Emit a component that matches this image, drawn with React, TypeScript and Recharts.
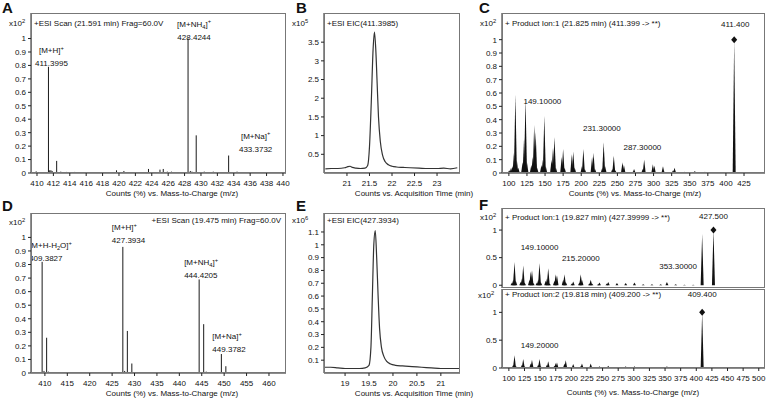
import React from 'react';
import { ComposedChart, Line, Scatter, XAxis, YAxis } from 'recharts';

const FONT = '"Liberation Sans", Arial, Helvetica, sans-serif';
const INK = '#111';

// ---- A: ESI scan 21.591 min ----
const aMz = [409.9, 411.3995, 411.55, 411.7, 411.85, 412.4, 412.9, 413.6, 414.6, 419.7, 420.6, 423.6, 425.0, 425.4, 425.9, 426.4, 428.4244, 428.7, 428.9, 429.42, 430.4, 431.5, 433.3732, 434.4, 436.2, 438.0];
const aAbund = [0.012, 0.79, 0.02, 0.02, 0.015, 0.09, 0.01, 0.008, 0.008, 0.02, 0.015, 0.03, 0.025, 0.03, 0.01, 0.01, 1.0, 0.015, 0.01, 0.28, 0.01, 0.01, 0.13, 0.01, 0.005, 0.005];
const aXTicks = [410, 412, 414, 416, 418, 420, 422, 424, 426, 428, 430, 432, 434, 436, 438, 440];
const aYTicks = [0, 0.1, 0.2, 0.3, 0.4, 0.5, 0.6, 0.7, 0.8, 0.9, 1];
const aNoteMz = [411.3995, 428.4244, 433.3732];
const aNoteAbund = [0.79, 1.0, 0.13];
const aNoteText = [['[M+H]^+', '411.3995'], ['[M+NH_4]^+', '428.4244'], ['[M+Na]^+', '433.3732']];

// ---- B: EIC 411.3985 ----
const bTime = [20.52, 20.65, 20.8, 20.95, 21.02, 21.07, 21.12, 21.2, 21.3, 21.4, 21.46, 21.5, 21.54, 21.58, 21.61, 21.64, 21.67, 21.7, 21.74, 21.79, 21.85, 21.92, 22.0, 22.1, 22.25, 22.4, 22.6, 22.8, 23.0, 23.15, 23.3, 23.45];
const bAbund = [0.11, 0.12, 0.12, 0.14, 0.17, 0.18, 0.15, 0.13, 0.12, 0.13, 0.2, 0.7, 1.9, 3.3, 3.77, 3.3, 2.4, 1.5, 0.85, 0.48, 0.3, 0.22, 0.18, 0.16, 0.15, 0.14, 0.13, 0.12, 0.12, 0.13, 0.11, 0.14];
const bXTicks = [21, 21.5, 22, 22.5, 23];
const bYTicks = [0.5, 1, 1.5, 2, 2.5, 3, 3.5];

// ---- C: product ion 411.399 ----
const cMz = [100.5, 103, 105, 107, 109, 111, 113, 119, 121, 123, 125, 131, 133, 135, 137, 139, 145, 147, 149, 151, 159, 161, 163, 165, 173, 175, 177, 187, 189, 191, 201, 203, 205, 215, 217, 219, 229, 231, 233, 243, 245, 247, 257, 259, 271, 273, 285, 287, 299, 301, 313, 315, 327, 329, 343, 357, 371, 411.4];
const cAbund = [0.02, 0.04, 0.05, 0.15, 0.59, 0.1, 0.04, 0.08, 0.26, 0.56, 0.08, 0.06, 0.12, 0.36, 0.31, 0.04, 0.06, 0.1, 0.43, 0.05, 0.1, 0.19, 0.27, 0.04, 0.12, 0.18, 0.04, 0.14, 0.16, 0.04, 0.05, 0.18, 0.03, 0.12, 0.15, 0.03, 0.04, 0.23, 0.05, 0.03, 0.13, 0.02, 0.08, 0.06, 0.01, 0.03, 0.03, 0.1, 0.065, 0.055, 0.05, 0.01, 0.02, 0.04, 0.01, 0.015, 0.01, 1.0];
const cXTicks = [100, 125, 150, 175, 200, 225, 250, 275, 300, 325, 350, 375, 400, 425];
const cYTicks = [0, 0.1, 0.2, 0.3, 0.4, 0.5, 0.6, 0.7, 0.8, 0.9, 1];
const cNoteMz = [149.1, 231.3, 287.3, 411.4];
const cNoteAbund = [0.43, 0.23, 0.1, 1.0];
const cNoteText = [['149.10000'], ['231.30000'], ['287.30000'], ['411.400']];
const cPrecursorMz = [411.4];
const cPrecursorAbund = [1.0];

// ---- D: ESI scan 19.475 min ----
const dMz = [409.3827, 409.8, 410.39, 410.8, 414.5, 416.2, 422.6, 427.3934, 427.8, 428.4, 429.4, 431.2, 432.6, 434.9, 444.4205, 445.43, 446.0, 449.3782, 450.38, 455.0];
const dAbund = [0.82, 0.015, 0.26, 0.01, 0.006, 0.006, 0.006, 0.93, 0.015, 0.31, 0.07, 0.006, 0.006, 0.006, 0.69, 0.36, 0.01, 0.14, 0.05, 0.006];
const dXTicks = [410, 415, 420, 425, 430, 435, 440, 445, 450, 455, 460];
const dYTicks = [0, 0.1, 0.2, 0.3, 0.4, 0.5, 0.6, 0.7, 0.8, 0.9, 1];
const dNoteMz = [409.3827, 427.3934, 444.4205, 449.3782];
const dNoteAbund = [0.82, 0.93, 0.69, 0.14];
const dNoteText = [['[M+H-H_2O]^+', '409.3827'], ['[M+H]^+', '427.3934'], ['[M+NH_4]^+', '444.4205'], ['[M+Na]^+', '449.3782']];

// ---- E: EIC 427.3934 ----
const eTime = [18.56, 18.7, 18.85, 19.0, 19.15, 19.3, 19.42, 19.5, 19.54, 19.57, 19.6, 19.63, 19.66, 19.69, 19.72, 19.76, 19.81, 19.87, 19.95, 20.05, 20.2, 20.4, 20.6, 20.8, 21.0, 21.2, 21.4];
const eAbund = [0.045, 0.045, 0.04, 0.035, 0.035, 0.035, 0.04, 0.06, 0.2, 0.6, 1.0, 1.11, 0.9, 0.6, 0.35, 0.2, 0.13, 0.09, 0.07, 0.06, 0.055, 0.05, 0.045, 0.04, 0.035, 0.035, 0.035];
const eXTicks = [19, 19.5, 20, 20.5, 21];
const eYTicks = [0.1, 0.2, 0.3, 0.4, 0.5, 0.6, 0.7, 0.8, 0.9, 1, 1.1];

// ---- F: product ions 427.4 and 409.2 ----
const f1Mz = [105, 107, 109, 111, 119, 121, 123, 125, 133, 135, 137, 139, 145, 147, 149, 151, 159, 161, 163, 165, 173, 175, 177, 187, 189, 191, 201, 203, 213, 215, 217, 229, 231, 233, 243, 245, 257, 259, 273, 287, 301, 315, 329, 343, 353, 367, 381, 395, 409.4, 427.5];
const f1Abund = [0.05, 0.1, 0.42, 0.08, 0.06, 0.12, 0.36, 0.05, 0.1, 0.25, 0.27, 0.04, 0.05, 0.1, 0.4, 0.06, 0.08, 0.12, 0.31, 0.03, 0.08, 0.2, 0.18, 0.1, 0.2, 0.06, 0.03, 0.07, 0.05, 0.2, 0.1, 0.03, 0.1, 0.03, 0.02, 0.05, 0.03, 0.06, 0.04, 0.04, 0.05, 0.02, 0.02, 0.02, 0.06, 0.02, 0.01, 0.01, 0.93, 1.0];
const f1NoteMz = [149.1, 215.2, 353.3, 427.5];
const f1NoteAbund = [0.4, 0.2, 0.06, 1.0];
const f1NoteText = [['149.10000'], ['215.20000'], ['353.30000'], ['427.500']];
const f1PrecursorMz = [427.5];
const f1PrecursorAbund = [1.0];

const f2Mz = [107, 109, 111, 121, 123, 125, 135, 137, 147, 149, 151, 161, 163, 173, 175, 177, 189, 191, 203, 215, 217, 231, 245, 259, 273, 287, 301, 315, 329, 343, 353, 409.4];
const f2Abund = [0.06, 0.23, 0.04, 0.06, 0.16, 0.03, 0.08, 0.15, 0.06, 0.16, 0.03, 0.06, 0.12, 0.04, 0.09, 0.1, 0.08, 0.14, 0.07, 0.03, 0.08, 0.08, 0.03, 0.04, 0.02, 0.03, 0.03, 0.02, 0.02, 0.02, 0.03, 1.0];
const f2NoteMz = [149.2, 409.4];
const f2NoteAbund = [0.16, 1.0];
const f2NoteText = [['149.20000'], ['409.400']];
const f2PrecursorMz = [409.4];
const f2PrecursorAbund = [1.0];

const fXTicks = [100, 125, 150, 175, 200, 225, 250, 275, 300, 325, 350, 375, 400, 425, 450, 475, 500];
const fYTicks = [0, 0.5, 1];

const MZ_TITLE = 'Counts (%) vs. Mass-to-Charge (m/z)';
const TIME_TITLE = 'Counts vs. Acquisition Time (min)';

// ---------------------------------------------------------------

type Box = { l: number; t: number; w: number; h: number };
type Pt = { x: number; y: number };
type NotePos = { dx: number; dy: number; anchor: 'start' | 'middle' | 'end' };

const Y_AXIS_W = 30;
const X_AXIS_H = 16;
const RIGHT_PAD = 10;
const LINE_GAP = 13;

const pts = (xs: number[], ys: number[]): Pt[] => xs.map((x, i) => ({ x, y: ys[i] }));

function Rich({ text, x, y, anchor = 'start', size = 8, weight = 'normal' }: any) {
  const parts: string[] = text.split(/(\^.|_.)/).filter((s: string) => s.length > 0);
  let cur = 0;
  return (
    <text x={x} y={y} textAnchor={anchor} fontFamily={FONT} fontSize={size} fontWeight={weight} fill={INK}>
      {parts.map((s, k) => {
        let target = 0;
        let body = s;
        let fs = size;
        if (s.length === 2 && s[0] === '^') { target = -size * 0.4; body = s[1]; fs = size * 0.72; }
        else if (s.length === 2 && s[0] === '_') { target = size * 0.25; body = s[1]; fs = size * 0.72; }
        const dy = target - cur;
        cur = target;
        return <tspan key={k} dy={dy} fontSize={fs}>{body}</tspan>;
      })}
    </text>
  );
}

interface SpecProps {
  box: Box;
  xDomain: [number, number];
  xTicks: number[];
  yDomain: [number, number];
  yTicks: number[];
  peaks?: Pt[];
  tents?: boolean;
  trace?: Pt[];
  notes?: { x: number; y: number; lines: string[]; pos: NotePos }[];
  precursor?: Pt[];
  showX?: boolean;
}

const Spectrum: React.FC<SpecProps> = ({ box, xDomain, xTicks, yDomain, yTicks, peaks, tents, trace, notes, precursor, showX = true }) => {
  const axisH = showX ? X_AXIS_H : 0;
  const bottomPad = showX ? 0 : 6;
  // pixel row of zero intensity inside the plot area
  const base = (box.h * yDomain[1]) / (yDomain[1] - yDomain[0]);
  const tick = { fontSize: 8, fill: INK, fontFamily: FONT };

  const stick = (p: any) => <line x1={p.cx} x2={p.cx} y1={p.cy} y2={base} stroke="#1a1a1a" strokeWidth={1} />;
  const tent = (p: any) => (
    <polygon points={`${p.cx - 1.5},${base} ${p.cx},${p.cy} ${p.cx + 1.5},${base}`} fill="#111" />
  );
  const diamond = (p: any) => (
    <polygon points={`${p.cx},${p.cy - 3.5} ${p.cx + 3},${p.cy} ${p.cx},${p.cy + 3.5} ${p.cx - 3},${p.cy}`} fill="#111" />
  );
  const note = (p: any) => {
    const n = p.payload;
    const last = n.lines.length - 1;
    return (
      <g>
        {n.lines.map((s: string, k: number) => (
          <Rich key={k} text={s} x={p.cx + n.pos.dx} y={p.cy + n.pos.dy - (last - k) * LINE_GAP} anchor={n.pos.anchor} />
        ))}
      </g>
    );
  };

  return (
    <div style={{ position: 'absolute', left: box.l - Y_AXIS_W, top: box.t }}>
      <ComposedChart
        width={box.w + Y_AXIS_W + RIGHT_PAD}
        height={box.h + axisH + bottomPad}
        margin={{ top: 0, right: RIGHT_PAD, bottom: bottomPad, left: 0 }}
      >
        <XAxis
          type="number"
          dataKey="x"
          domain={xDomain}
          ticks={xTicks}
          interval={0}
          allowDataOverflow
          hide={!showX}
          height={axisH}
          tickSize={3}
          tickMargin={4}
          tick={tick}
          axisLine={{ stroke: '#8c8c8c', strokeWidth: 2 }}
          tickLine={{ stroke: '#222' }}
        />
        <YAxis
          type="number"
          dataKey="y"
          domain={yDomain}
          ticks={yTicks}
          interval={0}
          allowDataOverflow
          width={Y_AXIS_W}
          tickSize={3}
          tickMargin={2}
          tick={tick}
          axisLine={{ stroke: '#222' }}
          tickLine={{ stroke: '#222' }}
        />
        {trace && (
          <Line data={trace} dataKey="y" type="monotone" dot={false} stroke="#333" strokeWidth={1.2} isAnimationActive={false} />
        )}
        {peaks && <Scatter data={peaks} dataKey="y" shape={tents ? tent : stick} isAnimationActive={false} />}
        {precursor && <Scatter data={precursor} dataKey="y" shape={diamond} isAnimationActive={false} />}
        {notes && <Scatter data={notes} dataKey="y" shape={note} isAnimationActive={false} />}
      </ComposedChart>
    </div>
  );
};

const Frame: React.FC<{ box: Box }> = ({ box }) => (
  <div
    style={{
      position: 'absolute',
      left: box.l,
      top: box.t,
      width: box.w,
      height: box.h,
      border: '1px solid #777',
      boxSizing: 'border-box',
      pointerEvents: 'none',
    }}
  />
);

const notesOf = (xs: number[], ys: number[], texts: string[][], pos: NotePos[]) =>
  xs.map((x, i) => ({ x, y: ys[i], lines: texts[i], pos: pos[i] }));

// layout
const boxA: Box = { l: 31, t: 13, w: 255, h: 160 };
const boxB: Box = { l: 324, t: 13, w: 136, h: 160 };
const boxC: Box = { l: 502, t: 13, w: 263, h: 160 };
const boxD: Box = { l: 31, t: 213, w: 255, h: 160 };
const boxE: Box = { l: 324, t: 213, w: 136, h: 160 };
const boxF1: Box = { l: 502, t: 208, w: 263, h: 80 };
const boxF2: Box = { l: 502, t: 289, w: 263, h: 79 };

const aPos: NotePos[] = [
  { dx: 3, dy: -1, anchor: 'middle' },
  { dx: 6, dy: 1, anchor: 'middle' },
  { dx: 27, dy: -4, anchor: 'middle' },
];
const cPos: NotePos[] = [
  { dx: -2, dy: -12, anchor: 'middle' },
  { dx: -2, dy: -11, anchor: 'middle' },
  { dx: -2, dy: -10, anchor: 'middle' },
  { dx: 1, dy: -13, anchor: 'middle' },
];
const dPos: NotePos[] = [
  { dx: -13, dy: -1, anchor: 'start' },
  { dx: -11, dy: -4, anchor: 'start' },
  { dx: -15, dy: -1, anchor: 'start' },
  { dx: -9, dy: -2, anchor: 'start' },
];
const f1Pos: NotePos[] = [
  { dx: 0, dy: -13, anchor: 'middle' },
  { dx: 0, dy: -13, anchor: 'middle' },
  { dx: 11, dy: -13, anchor: 'middle' },
  { dx: 0, dy: -11, anchor: 'middle' },
];
const f2Pos: NotePos[] = [
  { dx: 0, dy: -11, anchor: 'middle' },
  { dx: 0, dy: -15, anchor: 'middle' },
];

const headers: { text: string; x: number; y: number; anchor?: string; size?: number; weight?: string }[] = [
  { text: 'A', x: 2, y: 13, size: 15, weight: 'bold' },
  { text: 'B', x: 296, y: 13, size: 15, weight: 'bold' },
  { text: 'C', x: 479, y: 13, size: 15, weight: 'bold' },
  { text: 'D', x: 2, y: 211, size: 15, weight: 'bold' },
  { text: 'E', x: 296, y: 211, size: 15, weight: 'bold' },
  { text: 'F', x: 479, y: 210, size: 15, weight: 'bold' },
  { text: 'x10^2', x: 9, y: 26 },
  { text: 'x10^5', x: 292, y: 26 },
  { text: 'x10^2', x: 480, y: 26 },
  { text: 'x10^2', x: 9, y: 225 },
  { text: 'x10^6', x: 292, y: 223 },
  { text: 'x10^2', x: 480, y: 220 },
  { text: 'x10^2', x: 478, y: 298 },
  { text: '+ESI Scan (21.591 min) Frag=60.0V', x: 34, y: 26 },
  { text: '+ESI EIC(411.3985)', x: 327, y: 26 },
  { text: '+ Product Ion:1 (21.825 min) (411.399 -> **)', x: 505, y: 26 },
  { text: '+ESI Scan (19.475 min) Frag=60.0V', x: 281, y: 223, anchor: 'end' },
  { text: '+ESI EIC(427.3934)', x: 327, y: 223 },
  { text: '+ Product Ion:1 (19.827 min) (427.39999 -> **)', x: 505, y: 220 },
  { text: '+ Product Ion:2 (19.818 min) (409.200 -> **)', x: 505, y: 297 },
  { text: MZ_TITLE, x: 172, y: 196, anchor: 'middle' },
  { text: TIME_TITLE, x: 414, y: 196, anchor: 'middle' },
  { text: MZ_TITLE, x: 635, y: 196, anchor: 'middle' },
  { text: MZ_TITLE, x: 172, y: 396, anchor: 'middle' },
  { text: TIME_TITLE, x: 414, y: 396, anchor: 'middle' },
  { text: MZ_TITLE, x: 633, y: 395, anchor: 'middle' },
];

export default function App() {
  return (
    <div style={{ position: 'absolute', left: 0, top: 0, width: 769, height: 400, background: '#fff', fontFamily: FONT }}>
      <Spectrum
        box={boxA}
        xDomain={[409.27, 440.37]}
        xTicks={aXTicks}
        yDomain={[0, 1.19]}
        yTicks={aYTicks}
        peaks={pts(aMz, aAbund)}
        notes={notesOf(aNoteMz, aNoteAbund, aNoteText, aPos)}
      />
      <Spectrum box={boxB} xDomain={[20.49, 23.51]} xTicks={bXTicks} yDomain={[0, 4.28]} yTicks={bYTicks} trace={pts(bTime, bAbund)} />
      <Spectrum
        box={boxC}
        xDomain={[90.5, 454]}
        xTicks={cXTicks}
        yDomain={[0, 1.2]}
        yTicks={cYTicks}
        peaks={pts(cMz, cAbund)}
        tents
        precursor={pts(cPrecursorMz, cPrecursorAbund)}
        notes={notesOf(cNoteMz, cNoteAbund, cNoteText, cPos)}
      />
      <Spectrum
        box={boxD}
        xDomain={[406.9, 463.8]}
        xTicks={dXTicks}
        yDomain={[0, 1.18]}
        yTicks={dYTicks}
        peaks={pts(dMz, dAbund)}
        notes={notesOf(dNoteMz, dNoteAbund, dNoteText, dPos)}
      />
      <Spectrum box={boxE} xDomain={[18.56, 21.4]} xTicks={eXTicks} yDomain={[0, 1.248]} yTicks={eYTicks} trace={pts(eTime, eAbund)} />
      <Spectrum
        box={boxF1}
        xDomain={[89, 510]}
        xTicks={fXTicks}
        yDomain={[-0.05, 1.4]}
        yTicks={fYTicks}
        peaks={pts(f1Mz, f1Abund)}
        tents
        precursor={pts(f1PrecursorMz, f1PrecursorAbund)}
        notes={notesOf(f1NoteMz, f1NoteAbund, f1NoteText, f1Pos)}
        showX={false}
      />
      <Spectrum
        box={boxF2}
        xDomain={[89, 510]}
        xTicks={fXTicks}
        yDomain={[0, 1.42]}
        yTicks={fYTicks}
        peaks={pts(f2Mz, f2Abund)}
        tents
        precursor={pts(f2PrecursorMz, f2PrecursorAbund)}
        notes={notesOf(f2NoteMz, f2NoteAbund, f2NoteText, f2Pos)}
      />
      {[boxA, boxB, boxC, boxD, boxE, boxF1, boxF2].map((b, i) => (
        <Frame key={i} box={b} />
      ))}
      <svg width={769} height={400} style={{ position: 'absolute', left: 0, top: 0, pointerEvents: 'none' }}>
        {headers.map((h, i) => (
          <Rich key={i} text={h.text} x={h.x} y={h.y} anchor={h.anchor ?? 'start'} size={h.size ?? 8} weight={h.weight ?? 'normal'} />
        ))}
      </svg>
    </div>
  );
}
